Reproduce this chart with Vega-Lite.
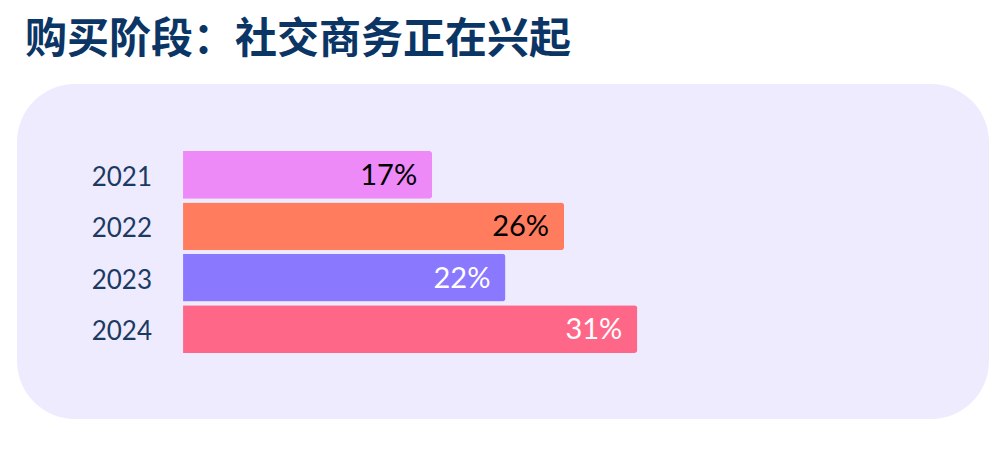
{
  "$schema": "https://vega.github.io/schema/vega-lite/v6.json",
  "description": "Share of purchases through social commerce by year.",
  "autosize": {"type": "none"},
  "padding": {"left": 17, "top": 84, "right": 0, "bottom": 0},
  "width": 972,
  "height": 335,
  "background": "#ffffff",
  "view": {"fill": "#EFEBFE", "stroke": null, "cornerRadius": 58},
  "title": {
    "text": "购买阶段：社交商务正在兴起",
    "anchor": "start",
    "frame": "group",
    "font": "Noto Sans CJK SC",
    "fontSize": 42,
    "fontWeight": "bold",
    "color": "#0B3565",
    "baseline": "alphabetic",
    "offset": -11,
    "dx": 8
  },
  "data": {
    "values": [
      {"year": "2021", "share": 17, "label": "17%", "labelColor": "black"},
      {"year": "2022", "share": 26, "label": "26%", "labelColor": "black"},
      {"year": "2023", "share": 22, "label": "22%", "labelColor": "white"},
      {"year": "2024", "share": 31, "label": "31%", "labelColor": "white"}
    ]
  },
  "encoding": {
    "y": {
      "field": "year",
      "type": "ordinal",
      "sort": null,
      "axis": null,
      "scale": {"range": [67, 269], "paddingInner": 0.07, "paddingOuter": 0}
    }
  },
  "layer": [
    {
      "mark": {"type": "bar", "cornerRadiusEnd": 3},
      "encoding": {
        "x": {
          "field": "share",
          "type": "quantitative",
          "axis": null,
          "scale": {"domain": [-11.33, 55.0], "nice": false, "zero": false}
        },
        "color": {
          "field": "year",
          "type": "nominal",
          "legend": null,
          "scale": {
            "domain": ["2021", "2022", "2023", "2024"],
            "range": ["#EE89F8", "#FF7C5F", "#8A78FF", "#FF6788"]
          }
        }
      }
    },
    {
      "mark": {
        "type": "text",
        "align": "right",
        "baseline": "middle",
        "dx": -15,
        "dy": 1,
        "font": "Lato",
        "fontSize": 29
      },
      "encoding": {
        "x": {"field": "share", "type": "quantitative"},
        "text": {"field": "label"},
        "color": {"field": "labelColor", "type": "nominal", "scale": null}
      }
    },
    {
      "mark": {
        "type": "text",
        "align": "right",
        "baseline": "middle",
        "dx": -31,
        "dy": 3,
        "font": "Lato",
        "fontSize": 26,
        "color": "#1B3A63"
      },
      "encoding": {
        "x": {"datum": 0, "type": "quantitative"},
        "text": {"field": "year"}
      }
    }
  ]
}
